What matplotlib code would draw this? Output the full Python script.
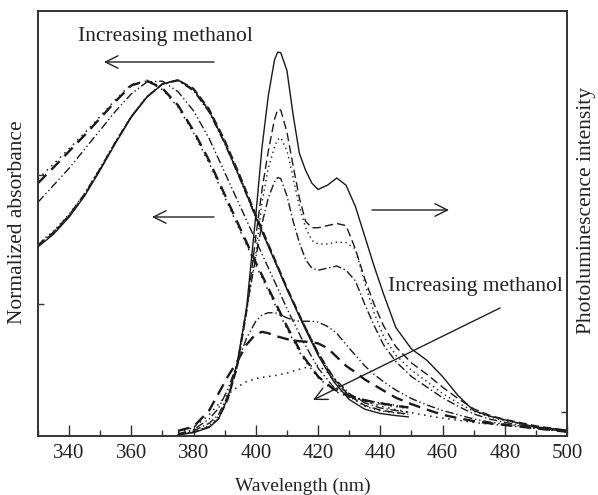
import numpy as np
import matplotlib
matplotlib.use("Agg")
import matplotlib.pyplot as plt

plt.rcParams['font.family'] = ['Liberation Serif', 'DejaVu Serif']

# absorbance (normalized), blue shift with methanol
abs_wl = [330, 335, 340, 345, 350, 355, 360, 365, 370, 375, 380, 385, 390,
          395, 400, 405, 410, 415, 420, 425, 430, 435, 440, 445, 449]
abs_solid = [0.445, 0.475, 0.515, 0.565, 0.626, 0.69, 0.75, 0.797, 0.828, 0.838, 0.815, 0.765, 0.69,
             0.605, 0.515, 0.43, 0.345, 0.265, 0.19, 0.128, 0.086, 0.063, 0.053, 0.048, 0.045]
abs_dash = [0.448, 0.478, 0.518, 0.568, 0.628, 0.692, 0.752, 0.798, 0.829, 0.838, 0.818, 0.77, 0.697,
            0.612, 0.522, 0.436, 0.35, 0.27, 0.196, 0.135, 0.095, 0.072, 0.061, 0.055, 0.052]
abs_dot = [0.452, 0.482, 0.522, 0.571, 0.631, 0.694, 0.753, 0.799, 0.829, 0.837, 0.816, 0.767, 0.694,
           0.609, 0.519, 0.433, 0.347, 0.268, 0.194, 0.133, 0.093, 0.07, 0.059, 0.054, 0.051]
abs_dashdot = [0.45, 0.48, 0.52, 0.57, 0.63, 0.693, 0.752, 0.798, 0.828, 0.836, 0.812, 0.762, 0.688,
               0.603, 0.514, 0.43, 0.346, 0.268, 0.196, 0.138, 0.1, 0.078, 0.066, 0.06, 0.056]
abs_dashdotdot = [0.55, 0.59, 0.63, 0.675, 0.72, 0.765, 0.805, 0.833, 0.835, 0.81, 0.765, 0.70, 0.62,
                  0.54, 0.46, 0.38, 0.30, 0.225, 0.16, 0.115, 0.095, 0.085, 0.078, 0.072, 0.068]
abs_thick = [0.595, 0.632, 0.67, 0.708, 0.748, 0.788, 0.825, 0.836, 0.818, 0.778, 0.718, 0.648, 0.568,
             0.488, 0.408, 0.333, 0.258, 0.19, 0.14, 0.11, 0.094, 0.084, 0.077, 0.071, 0.067]
abs_dotlow = [0.605, 0.64, 0.676, 0.713, 0.752, 0.792, 0.828, 0.835, 0.815, 0.774, 0.713, 0.642, 0.562,
              0.482, 0.402, 0.327, 0.252, 0.185, 0.137, 0.107, 0.091, 0.082, 0.075, 0.069, 0.065]

# photoluminescence, decreasing with methanol
pl_wl = [375, 380, 385, 388, 391, 394, 397, 400, 402, 404, 406, 407, 408, 410, 412, 414, 416, 418,
         420, 423, 426, 429, 432, 435, 438, 441, 445, 450, 455, 460, 465, 470, 475, 480, 490, 500]
pl_solid = [.003, .008, .02, .04, .09, .17, .30, .52, .68, .80, .885, .903, .902, .86, .755, .665, .625, .595,
            .58, .59, .607, .59, .54, .47, .40, .335, .255, .205, .178, .14, .095, .06, .047, .038, .021, .014]
pl_dash = [.003, .009, .022, .04, .085, .16, .29, .47, .58, .67, .745, .768, .767, .715, .635, .56, .505, .49,
           .49, .495, .50, .495, .44, .37, .31, .26, .21, .172, .145, .115, .088, .064, .049, .039, .024, .013]
pl_dot = [.003, .01, .024, .045, .09, .16, .29, .43, .55, .63, .68, .697, .702, .672, .607, .54, .49, .46,
          .452, .452, .456, .455, .44, .36, .29, .235, .19, .155, .128, .10, .078, .058, .045, .036, .022, .012]
pl_dashdot = [.004, .012, .03, .05, .095, .17, .30, .42, .50, .56, .598, .608, .606, .565, .505, .455, .415, .395,
              .39, .395, .40, .39, .365, .31, .26, .215, .175, .14, .115, .09, .07, .052, .04, .032, .02, .01]
pl_dashdotdot = [.005, .015, .04, .065, .11, .17, .23, .27, .285, .29, .29, .288, .285, .278, .273, .27, .27, .27,
                 .268, .258, .242, .215, .19, .165, .145, .128, .108, .088, .073, .06, .05, .04, .033, .028, .019, .011]
pl_thick = [.012, .022, .06, .10, .14, .175, .215, .24, .245, .242, .236, .234, .232, .228, .225, .223, .222, .221,
            .218, .207, .186, .165, .15, .133, .12, .107, .09, .075, .062, .05, .042, .035, .03, .026, .018, .01]
pl_dotlow = [.008, .02, .05, .075, .098, .115, .128, .135, .138, .14, .142, .143, .145, .148, .153, .157, .161, .165,
             .166, .15, .123, .103, .09, .082, .075, .069, .062, .055, .048, .042, .037, .032, .028, .025, .018, .01]

c = '#1a1a1a'
styles = [
    (abs_solid, pl_solid, '-', 1.0),
    (abs_dash, pl_dash, (0, (6, 3)), 1.0),
    (abs_dot, pl_dot, (0, (1, 2.5)), 1.0),
    (abs_dashdot, pl_dashdot, (0, (6, 2, 1, 2)), 1.0),
    (abs_dashdotdot, pl_dashdotdot, (0, (6, 2, 1, 2, 1, 2)), 1.0),
    (abs_thick, pl_thick, (0, (5, 3)), 1.7),
    (abs_dotlow, pl_dotlow, (0, (1, 3)), 1.1),
]

fig = plt.figure(figsize=(5.98, 4.95), dpi=100)
ax = fig.add_axes([38 / 598, 1 - 436 / 495, (567 - 38) / 598, (436 - 11) / 495])
ax2 = ax.twinx()

for a, p, ls, lw in styles:
    ax.plot(abs_wl, a, color=c, linestyle=ls, linewidth=lw)
    ax2.plot(pl_wl, p, color=c, linestyle=ls, linewidth=lw)

for a in (ax, ax2):
    a.set_xlim(330, 500)
    a.set_ylim(0, 1)
    for s in a.spines.values():
        s.set_color('#333333')
        s.set_linewidth(1.2)

ax.set_xticks(np.arange(340, 501, 20))
ax.set_xticks(np.arange(330, 501, 10), minor=True)
ax.tick_params(axis='x', which='major', direction='in', length=8, width=1, labelsize=15, pad=6,
               colors='#333333', labelcolor='#222222')
ax.tick_params(axis='x', which='minor', direction='in', length=4, width=1, colors='#333333')
ax.set_yticks([0.31, 0.614])
ax.tick_params(axis='y', which='major', direction='in', length=4, width=1, labelleft=False, colors='#333333')
ax2.set_yticks([0.056])
ax2.tick_params(axis='y', which='major', direction='in', length=4, width=1, labelright=False, colors='#333333')

ax.set_xlabel('Wavelength (nm)', fontsize=14, color='#222222', labelpad=10)
fig.text(18 / 598, 1 - 222 / 495, 'Normalized absorbance', rotation=90, ha='center', va='center',
         fontsize=15.5, color='#222222')
fig.text(586 / 598, 1 - 210 / 495, 'Photoluminescence intensity', rotation=90, ha='center', va='center',
         fontsize=15.5, color='#222222')

# annotations in pixel-like figure fraction
def fx(px):
    return px / 598

def fy(py):
    return 1 - py / 495

arr = dict(arrowstyle='->,head_length=0.9,head_width=0.45', color='#222222', lw=1.0, shrinkA=0, shrinkB=0)
fig.text(fx(165), fy(37), 'Increasing methanol', ha='center', va='center', fontsize=15.5, color='#222222')
ax.annotate('', xy=(fx(104), fy(62)), xytext=(fx(214), fy(62)), xycoords='figure fraction',
            textcoords='figure fraction', arrowprops=arr)
ax.annotate('', xy=(fx(152), fy(217)), xytext=(fx(214), fy(217)), xycoords='figure fraction',
            textcoords='figure fraction', arrowprops=arr)
ax.annotate('', xy=(fx(449), fy(210)), xytext=(fx(372), fy(210)), xycoords='figure fraction',
            textcoords='figure fraction', arrowprops=arr)
fig.text(fx(475), fy(287), 'Increasing methanol', ha='center', va='center', fontsize=15.5, color='#222222')
ax.annotate('', xy=(fx(313), fy(400)), xytext=(fx(500), fy(308)), xycoords='figure fraction',
            textcoords='figure fraction', arrowprops=arr)

fig.savefig('out.png', dpi=100)
